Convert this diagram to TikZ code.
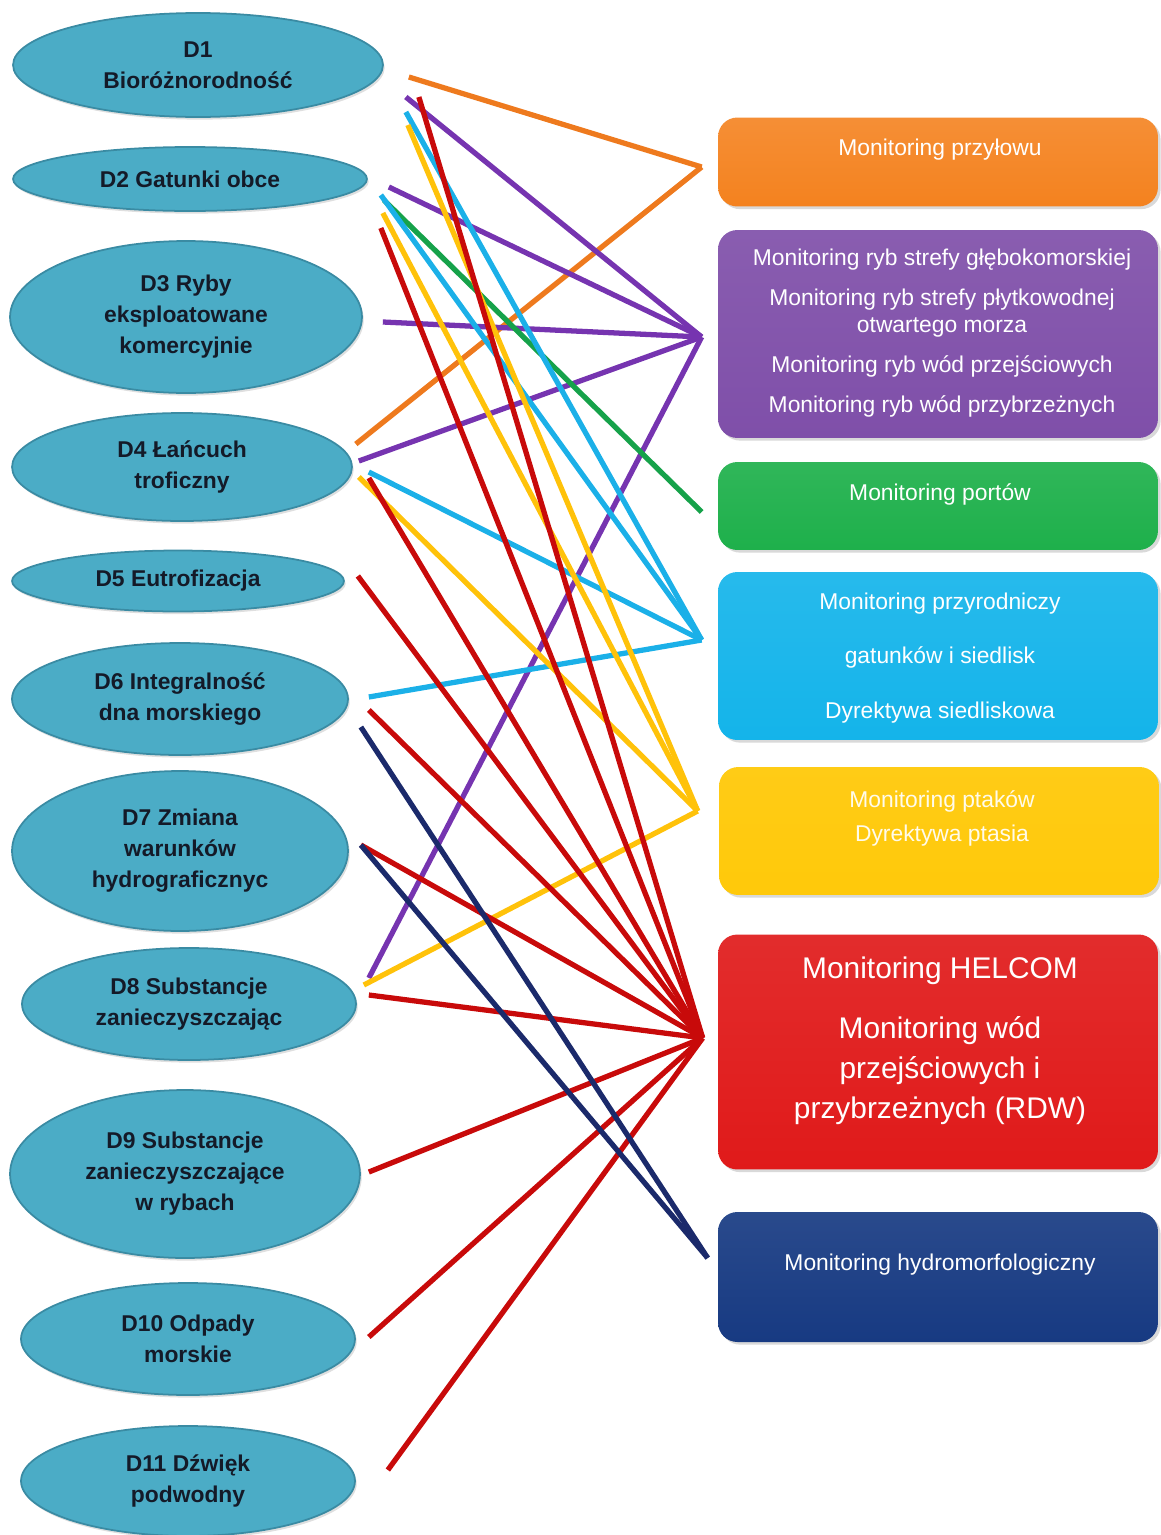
\documentclass[tikz,border=0pt]{standalone}
\usepackage{fontspec}
\setmainfont{Liberation Sans}
\usetikzlibrary{shapes.geometric,shadows}

\definecolor{elfill}{HTML}{4BACC6}
\definecolor{eldraw}{HTML}{3A8BA3}
\definecolor{eltext}{HTML}{141A28}
\definecolor{bxOr}{HTML}{F4821F}
\definecolor{bxPu}{HTML}{7F4FA9}
\definecolor{bxGr}{HTML}{1EB04B}
\definecolor{bxCy}{HTML}{14B4EA}
\definecolor{bxYe}{HTML}{FFC90A}
\definecolor{bxRe}{HTML}{E01A1A}
\definecolor{bxNa}{HTML}{173A82}
\definecolor{lnOr}{HTML}{EE7A1E}
\definecolor{lnPu}{HTML}{7634B0}
\definecolor{lnGr}{HTML}{16A24A}
\definecolor{lnCy}{HTML}{1BB0E8}
\definecolor{lnYe}{HTML}{FFC20A}
\definecolor{lnRe}{HTML}{C80A0A}
\definecolor{lnNa}{HTML}{1B2A6B}

\tikzset{
  desc/.style={ellipse, draw=eldraw, line width=1pt, fill=elfill, inner sep=0pt,
    align=center, text=eltext, font=\fontsize{13}{17.6}\selectfont\bfseries,
    drop shadow={opacity=0.25, shadow xshift=1pt, shadow yshift=-1.5pt}},
  mbox/.style={rectangle, rounded corners=11pt, minimum width=8.8cm, inner sep=0pt,
    drop shadow={opacity=0.3, shadow xshift=1.5pt, shadow yshift=-1.5pt}},
  mtext/.style={align=center, text=white, font=\fontsize{13}{15.3}\selectfont},
  link/.style={line width=3pt},
}

\begin{document}
\begin{tikzpicture}[x=0.02cm, y=-0.02cm]
    \useasboundingbox (0,0) rectangle (1160,1535);
    % Descriptors
    \node[desc, minimum width=7.40cm, minimum height=2.08cm] (d1) at (198,65) {D1\\Bioróżnorodność};
    \node[desc, minimum width=7.08cm, minimum height=1.28cm] (d2) at (190,179) {D2 Gatunki obce};
    \node[desc, minimum width=7.04cm, minimum height=3.04cm] (d3) at (186,317) {D3 Ryby\\eksploatowane\\komercyjnie};
    \node[desc, minimum width=6.80cm, minimum height=2.16cm] (d4) at (182,467) {D4 Łańcuch\\troficzny};
    \node[desc, minimum width=6.64cm, minimum height=1.22cm] (d5) at (178,581) {D5 Eutrofizacja};
    \node[desc, minimum width=6.72cm, minimum height=2.24cm] (d6) at (180,699) {D6 Integralność\\dna morskiego};
    \node[desc, minimum width=6.72cm, minimum height=3.20cm] (d7) at (180,851) {D7 Zmiana\\warunków\\hydrograficznyc};
    \node[desc, minimum width=6.68cm, minimum height=2.24cm] (d8) at (189,1004) {D8 Substancje\\zanieczyszczając};
    \node[desc, minimum width=7.00cm, minimum height=3.36cm] (d9) at (185,1174) {D9 Substancje\\zanieczyszczające\\w rybach};
    \node[desc, minimum width=6.68cm, minimum height=2.24cm] (d10) at (188,1339) {D10 Odpady\\morskie};
    \node[desc, minimum width=6.68cm, minimum height=2.20cm] (d11) at (188,1481) {D11 Dźwięk\\podwodny};
    % Monitoring programmes
    \node[mbox, top color=bxOr!90!white, bottom color=bxOr, minimum height=1.78cm] (bOr) at (938,162) {};
    \node[mbox, top color=bxPu!92!white, bottom color=bxPu, minimum height=4.16cm] (bPu) at (938,334) {};
    \node[mbox, top color=bxGr!92!white, bottom color=bxGr, minimum height=1.76cm] (bGr) at (938,506) {};
    \node[mbox, top color=bxCy!92!white, bottom color=bxCy, minimum height=3.36cm] (bCy) at (938,656) {};
    \node[mbox, top color=bxYe!95!white, bottom color=bxYe, minimum height=2.56cm] (bYe) at (939,831) {};
    \node[mbox, top color=bxRe!92!white, bottom color=bxRe, minimum height=4.70cm] (bRe) at (938,1052) {};
    \node[mbox, top color=bxNa!92!white, bottom color=bxNa, minimum height=2.60cm] (bNa) at (938,1277) {};
    \node[mtext] (tOr) at (940,150) {Monitoring przyłowu};
    \node[mtext] (tPu) at (942,333) {Monitoring ryb strefy głębokomorskiej\\[7.4pt]
      Monitoring ryb strefy płytkowodnej\\otwartego morza\\[7.4pt]
      Monitoring ryb wód przejściowych\\[7.4pt]
      Monitoring ryb wód przybrzeżnych};
    \node[mtext] (tGr) at (940,494) {Monitoring portów};
    \node[mtext, font=\fontsize{13}{31.2}\selectfont] (tCy) at (940,658) {Monitoring przyrodniczy\\gatunków i siedlisk\\Dyrektywa siedliskowa};
    \node[mtext, text=white!92!bxYe, font=\fontsize{13}{19.3}\selectfont] (tYe) at (942,818) {Monitoring ptaków\\Dyrektywa ptasia};
    \node[mtext, font=\fontsize{17}{22.7}\selectfont] (tRe) at (940,1041) {Monitoring HELCOM\\[11.4pt]
      Monitoring wód\\przejściowych i\\przybrzeżnych (RDW)};
    \node[mtext] (tNa) at (940,1265) {Monitoring hydromorfologiczny};
    % Hubs
    \coordinate (hOr) at ([shift={(-16,5)}]bOr.west);
    \coordinate (hPu) at ([shift={(-16,3)}]bPu.west);
    \coordinate (hGr) at ([shift={(-16,6)}]bGr.west);
    \coordinate (hCy) at ([shift={(-16,-16)}]bCy.west);
    \coordinate (hYe) at ([shift={(-21,-20)}]bYe.west);
    \coordinate (hRe) at ([shift={(-15,-14)}]bRe.west);
    \coordinate (hNa) at ([shift={(-10,-19)}]bNa.west);
    % Orange
    \draw[link, lnOr] ([shift={(25,12)}]d1.east) -- (hOr);
    \draw[link, lnOr] ([shift={(3,-23)}]d4.east) -- (hOr);
    % Purple
    \draw[link, lnPu] ([shift={(22,32)}]d1.east) -- (hPu);
    \draw[link, lnPu] ([shift={(21,8)}]d2.east) -- (hPu);
    \draw[link, lnPu] ([shift={(20,5)}]d3.east) -- (hPu);
    \draw[link, lnPu] ([shift={(6,-6)}]d4.east) -- (hPu);
    \draw[link, lnPu] ([shift={(12,-26)}]d8.east) -- (hPu);
    % Green
    \draw[link, lnGr] ([shift={(16,21)}]d2.east) -- (hGr);
    % Cyan
    \draw[link, lnCy] ([shift={(22,47)}]d1.east) -- (hCy);
    \draw[link, lnCy] ([shift={(13,16)}]d2.east) -- (hCy);
    \draw[link, lnCy] ([shift={(16,5)}]d4.east) -- (hCy);
    \draw[link, lnCy] ([shift={(20,-2)}]d6.east) -- (hCy);
    % Yellow
    \draw[link, lnYe] ([shift={(24,60)}]d1.east) -- (hYe);
    \draw[link, lnYe] ([shift={(15,34)}]d2.east) -- (hYe);
    \draw[link, lnYe] ([shift={(6,10)}]d4.east) -- (hYe);
    \draw[link, lnYe] ([shift={(7,-19)}]d8.east) -- (hYe);
    % Red
    \draw[link, lnRe] ([shift={(35,32)}]d1.east) -- (hRe);
    \draw[link, lnRe] ([shift={(13,49)}]d2.east) -- (hRe);
    \draw[link, lnRe] ([shift={(16,11)}]d4.east) -- (hRe);
    \draw[link, lnRe] ([shift={(13,-5)}]d5.east) -- (hRe);
    \draw[link, lnRe] ([shift={(20,11)}]d6.east) -- (hRe);
    \draw[link, lnRe] ([shift={(12,-6)}]d7.east) -- (hRe);
    \draw[link, lnRe] ([shift={(12,-9)}]d8.east) -- (hRe);
    \draw[link, lnRe] ([shift={(8,-2)}]d9.east) -- (hRe);
    \draw[link, lnRe] ([shift={(13,-2)}]d10.east) -- (hRe);
    \draw[link, lnRe] ([shift={(32,-11)}]d11.east) -- (hRe);
    % Navy
    \draw[link, lnNa] ([shift={(12,28)}]d6.east) -- (hNa);
    \draw[link, lnNa] ([shift={(12,-6)}]d7.east) -- (hNa);
\end{tikzpicture}
\end{document}
